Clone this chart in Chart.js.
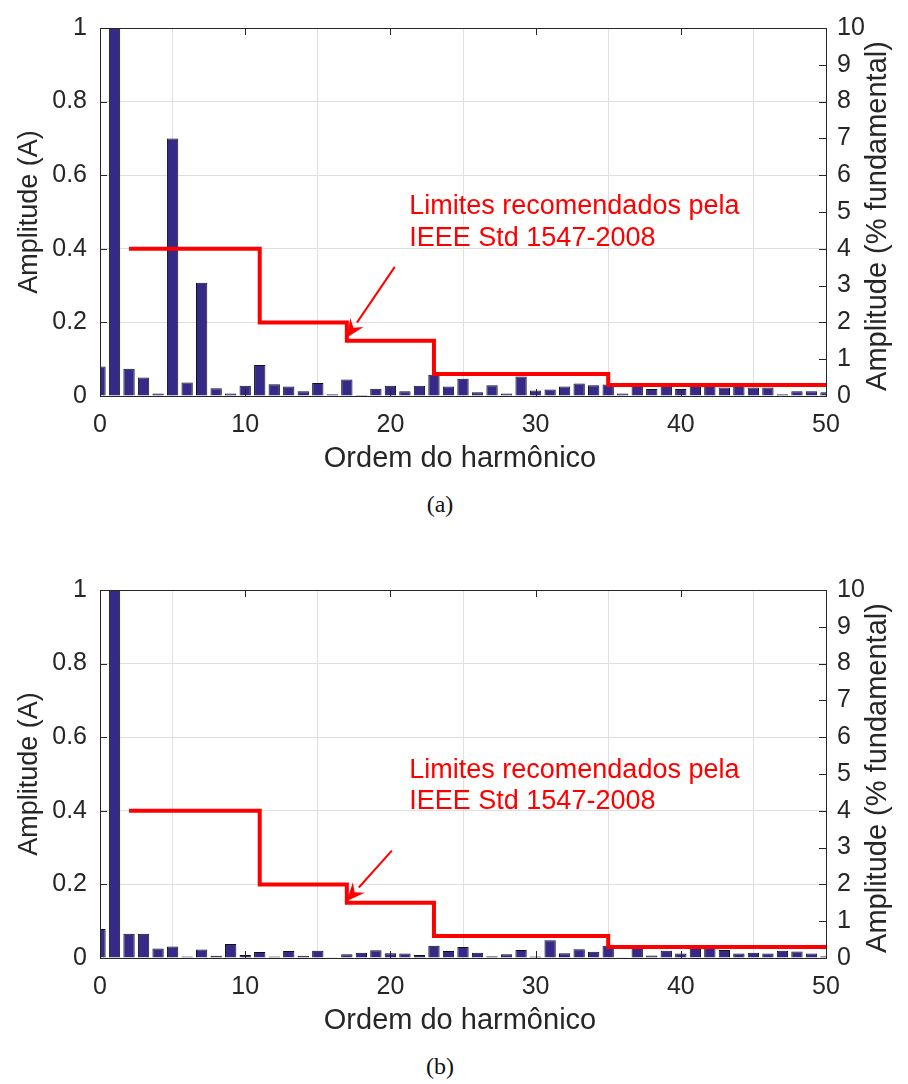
<!DOCTYPE html>
<html lang="pt">
<head>
  <meta charset="UTF-8" />
  <title>Espectro harmônico da corrente</title>
  <script src="https://cdn.jsdelivr.net/npm/chart.js"></script>
  <style>
    body {
      margin: 0;
      background: #fff;
      width: 908px;
      height: 1084px;
      position: relative;
      font-family: "Liberation Sans", Arial, sans-serif;
    }
    canvas {
      position: absolute;
      left: 0;
    }
    #chartA { top: 0; }
    #chartB { top: 562px; }
    .legenda {
      position: absolute;
      width: 908px;
      left: 0;
      text-align: center;
      font-family: "Liberation Serif", "DejaVu Serif", serif;
      font-size: 24px;
      color: #111;
    }
  </style>
</head>
<body>
  <canvas id="chartA" width="908" height="480"></canvas>
  <div class="legenda" style="top: 491px; left: -14px;">(a)</div>
  <canvas id="chartB" width="908" height="480"></canvas>
  <div class="legenda" style="top: 1053px; left: -14px;">(b)</div>

  <script>
    // Ordem harmônica (0 = componente CC)
    const ordens = [0, 1, 2, 3, 4, 5, 6, 7, 8, 9, 10, 11, 12, 13, 14, 15, 16, 17, 18, 19, 20,
      21, 22, 23, 24, 25, 26, 27, 28, 29, 30, 31, 32, 33, 34, 35, 36, 37, 38, 39, 40,
      41, 42, 43, 44, 45, 46, 47, 48, 49, 50];

    // Amplitudes em A, caso (a)
    const amplitudesA = [0.080, 10, 0.074, 0.050, 0.007, 0.700, 0.037, 0.308, 0.021, 0.007, 0.028,
      0.084, 0.032, 0.026, 0.013, 0.035, 0.005, 0.045, 0.003, 0.020, 0.028,
      0.013, 0.028, 0.058, 0.026, 0.047, 0.010, 0.029, 0.007, 0.053, 0.015,
      0.018, 0.026, 0.034, 0.029, 0.031, 0.007, 0.032, 0.019, 0.031, 0.019,
      0.031, 0.031, 0.023, 0.030, 0.023, 0.023, 0.005, 0.013, 0.013, 0.010];

    // Amplitudes em A, caso (b)
    const amplitudesB = [0.079, 10, 0.066, 0.066, 0.026, 0.031, 0.004, 0.023, 0.006, 0.038, 0.008,
      0.016, 0.004, 0.019, 0.006, 0.020, 0.002, 0.010, 0.014, 0.021, 0.013,
      0.012, 0.008, 0.033, 0.019, 0.030, 0.014, 0.005, 0.010, 0.022, 0.004,
      0.048, 0.013, 0.024, 0.017, 0.033, 0.001, 0.031, 0.007, 0.020, 0.012,
      0.031, 0.031, 0.022, 0.012, 0.014, 0.012, 0.020, 0.018, 0.012, 0.005];

    // Limites da IEEE 1547-2008 (% da fundamental), em degraus
    const limiteOrdem = [2, 11, 17, 23, 35, 50];
    const limitePct = [4, 2, 1.5, 0.6, 0.3, 0.3];

    const textoLimite = ['Limites recomendados pela', 'IEEE Std 1547-2008'];

    const corEixo = '#262626';
    const corGrade = '#dfdfdf';
    const fonte = '"Liberation Sans", Arial, sans-serif';

    // Moldura, marcas internas, rótulos dos eixos e anotação
    const molduraPlugin = {
      id: 'moldura',
      afterDatasetsDraw(chart, args, opts) {
        const { ctx, chartArea: a, scales } = chart;
        const tl = 7;
        ctx.save();
        ctx.strokeStyle = corEixo;
        ctx.lineWidth = 1;
        ctx.beginPath();
        scales.x.ticks.forEach(t => {
          const px = Math.round(scales.x.getPixelForValue(t.value)) + 0.5;
          ctx.moveTo(px, a.bottom); ctx.lineTo(px, a.bottom - tl);
          ctx.moveTo(px, a.top); ctx.lineTo(px, a.top + tl);
        });
        scales.y.ticks.forEach(t => {
          const py = Math.round(scales.y.getPixelForValue(t.value)) + 0.5;
          ctx.moveTo(a.left, py); ctx.lineTo(a.left + tl, py);
        });
        scales.y1.ticks.forEach(t => {
          const py = Math.round(scales.y1.getPixelForValue(t.value)) + 0.5;
          ctx.moveTo(a.right, py); ctx.lineTo(a.right - tl, py);
        });
        ctx.stroke();
        ctx.strokeRect(Math.round(a.left) + 0.5, Math.round(a.top) + 0.5,
          Math.round(a.right - a.left), Math.round(a.bottom - a.top));

        // títulos dos eixos
        ctx.fillStyle = corEixo;
        ctx.textAlign = 'center';
        ctx.textBaseline = 'middle';
        const cy = (a.top + a.bottom) / 2;
        ctx.font = '29px ' + fonte;
        ctx.fillText('Ordem do harmônico', (a.left + a.right) / 2 - 3, a.bottom + 63);
        ctx.save();
        ctx.font = '27px ' + fonte;
        ctx.translate(a.left - 70, cy);
        ctx.rotate(-Math.PI / 2);
        ctx.fillText('Amplitude (A)', 0, 0);
        ctx.restore();
        ctx.save();
        ctx.font = '29px ' + fonte;
        ctx.translate(a.right + 52, cy + 4);
        ctx.rotate(-Math.PI / 2);
        ctx.fillText('Amplitude (% fundamental)', 0, 0);
        ctx.restore();

        // anotação com seta
        const sx = scales.x, sy = scales.y;
        ctx.fillStyle = '#ff0000';
        ctx.strokeStyle = '#ff0000';
        ctx.font = '27px ' + fonte;
        ctx.textAlign = 'left';
        ctx.fillText(textoLimite[0], sx.getPixelForValue(opts.texto[0]), sy.getPixelForValue(opts.texto[1]));
        ctx.fillText(textoLimite[1], sx.getPixelForValue(opts.texto[0]), sy.getPixelForValue(opts.texto[2]));

        const x0 = sx.getPixelForValue(opts.seta[0]), y0 = sy.getPixelForValue(opts.seta[1]);
        const x1 = sx.getPixelForValue(opts.seta[2]), y1 = sy.getPixelForValue(opts.seta[3]);
        const ang = Math.atan2(y1 - y0, x1 - x0);
        const L = 18, W = 8;
        const bx = x1 - L * Math.cos(ang), by = y1 - L * Math.sin(ang);
        ctx.lineWidth = 2;
        ctx.beginPath();
        ctx.moveTo(x0, y0);
        ctx.lineTo(bx, by);
        ctx.stroke();
        ctx.beginPath();
        ctx.moveTo(x1, y1);
        ctx.lineTo(bx - W * Math.sin(ang), by + W * Math.cos(ang));
        ctx.lineTo(x1 - 0.65 * L * Math.cos(ang), y1 - 0.65 * L * Math.sin(ang));
        ctx.lineTo(bx + W * Math.sin(ang), by - W * Math.cos(ang));
        ctx.closePath();
        ctx.fill();
        ctx.restore();
      }
    };

    const rotuloY = v => String(Number(v.toFixed(1)));

    function criarGrafico(id, amplitudes, anotacao) {
      const ctx = document.getElementById(id).getContext('2d');
      return new Chart(ctx, {
        data: {
          datasets: [
            {
              type: 'line',
              data: limiteOrdem.map((h, i) => ({ x: h, y: limitePct[i] })),
              yAxisID: 'y1',
              borderColor: '#ff0000',
              borderWidth: 4,
              stepped: 'before',
              pointRadius: 0,
              fill: false,
              order: 0
            },
            {
              type: 'bar',
              data: ordens.map((h, i) => ({ x: h, y: amplitudes[i] })),
              yAxisID: 'y',
              backgroundColor: '#352a87',
              borderColor: '#111111',
              borderWidth: 1,
              barPercentage: 0.78,
              categoryPercentage: 1,
              clip: 0,
              order: 1
            }
          ]
        },
        options: {
          responsive: false,
          animation: false,
          layout: { padding: { top: 23, left: 0, right: 0, bottom: 0 } },
          plugins: {
            legend: { display: false },
            tooltip: { enabled: false },
            moldura: anotacao
          },
          scales: {
            x: {
              type: 'linear',
              min: 0,
              max: 50,
              offset: false,
              ticks: { stepSize: 10, padding: 14, color: corEixo, font: { family: fonte, size: 25 } },
              grid: { color: corGrade, drawTicks: false },
              border: { display: false },
              afterFit: s => { s.height = 84; }
            },
            y: {
              position: 'left',
              min: 0,
              max: 1,
              ticks: { stepSize: 0.2, padding: 13, color: corEixo, font: { family: fonte, size: 25 }, callback: rotuloY },
              grid: { color: corGrade, drawTicks: false },
              border: { display: false },
              afterFit: s => { s.width = 100; }
            },
            y1: {
              position: 'right',
              min: 0,
              max: 10,
              ticks: { stepSize: 1, padding: 11, color: corEixo, font: { family: fonte, size: 25 } },
              grid: { drawOnChartArea: false, drawTicks: false },
              border: { display: false },
              afterFit: s => { s.width = 82; }
            }
          }
        },
        plugins: [molduraPlugin]
      });
    }

    criarGrafico('chartA', amplitudesA, { texto: [21.3, 0.515, 0.429], seta: [20.3, 0.351, 17.0, 0.159] });
    criarGrafico('chartB', amplitudesB, { texto: [21.3, 0.509, 0.424], seta: [20.1, 0.292, 17.0, 0.155] });
  </script>
</body>
</html>
